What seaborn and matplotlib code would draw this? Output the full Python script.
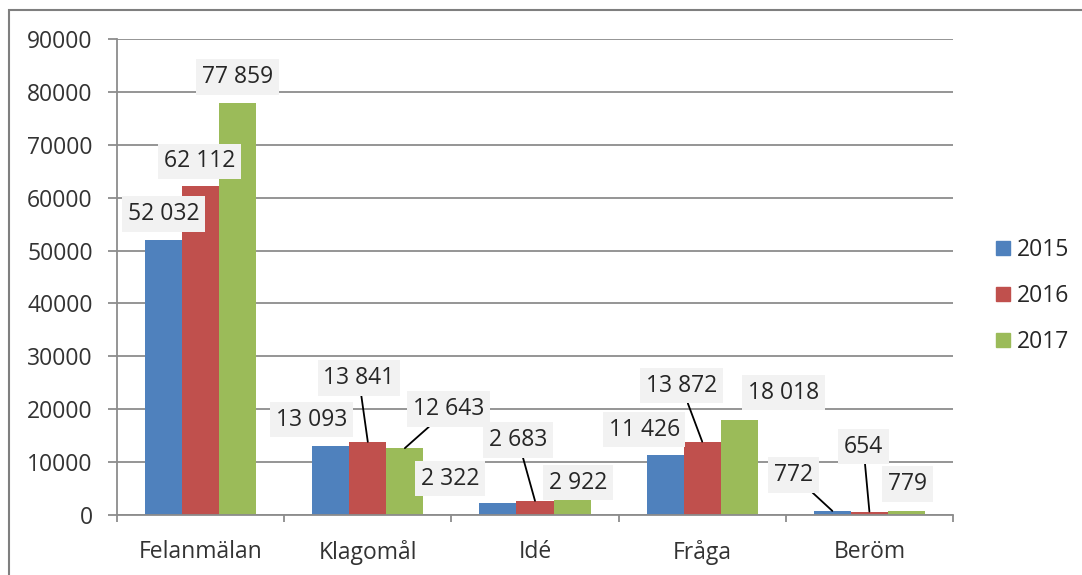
import matplotlib
matplotlib.use('Agg')
import matplotlib.pyplot as plt
import matplotlib.patches as mpatches
from matplotlib.lines import Line2D
import seaborn as sns
import pandas as pd

# data
kategorier = ['Felanmälan', 'Klagomål', 'Idé', 'Fråga', 'Beröm']
ar = ['2015', '2016', '2017']
v2015 = [52032, 13093, 2322, 11426, 772]
v2016 = [62112, 13841, 2683, 13872, 654]
v2017 = [77859, 12643, 2922, 18018, 779]
farger = ['#4f81bd', '#c0504d', '#9bbb59']

df = pd.DataFrame({
    'Kategori': kategorier * 3,
    'År': [a for a in ar for _ in kategorier],
    'Antal': v2015 + v2016 + v2017,
})

# label offsets (pixels) per year/category, and whether a leader line is drawn
offset = {
    '2015': [(0, 26), (-19, 26), (-48, 24), (-21, 25), (-39, 36)],
    '2016': [(-1, 25), (-9, 64), (-17, 61), (-21, 56), (-6, 65)],
    '2017': [(0, 26), (44, 39), (6, 17), (44, 27), (1, 27)],
}
linje = {
    '2015': [False, False, False, False, True],
    '2016': [False, True, True, True, True],
    '2017': [False, True, False, False, False],
}

sns.set_style('white')
plt.rcParams['font.family'] = ['Open Sans', 'DejaVu Sans']

fig = plt.figure(figsize=(10.82, 5.75), dpi=100)
ax = fig.add_axes([117 / 1082, 60 / 575, 836 / 1082, 476 / 575])

sns.barplot(data=df, x='Kategori', y='Antal', hue='År', palette=farger,
            width=0.665, saturation=1, linewidth=0, ax=ax, legend=False,
            zorder=2)

ax.set_ylim(0, 90000)
ax.set_xlim(-0.5, 4.5)
ax.set_yticks(range(0, 90001, 10000))
ax.set_yticklabels([str(t) for t in range(0, 90001, 10000)])
ax.set_xlabel('')
ax.set_ylabel('')
ax.yaxis.grid(True, color='#8c8c8c', lw=1.3, zorder=0)
ax.set_axisbelow(True)
for s in ['top', 'right']:
    ax.spines[s].set_visible(False)
for s in ['left', 'bottom']:
    ax.spines[s].set_color('#8c8c8c')
    ax.spines[s].set_linewidth(1.3)

ax.tick_params(axis='y', length=6.5, width=1.3, color='#8c8c8c', pad=11,
               labelsize=16.5, labelcolor='#333333', left=True)
ax.tick_params(axis='x', which='major', length=0, pad=18, labelsize=16.5,
               labelcolor='#333333')
ax.set_xticks([i - 0.5 for i in range(6)], minor=True)
ax.tick_params(axis='x', which='minor', length=5, width=1.3, color='#8c8c8c',
               bottom=True)

# data labels
for container, a in zip(ax.containers, ar):
    for i, bar in enumerate(container):
        x = bar.get_x() + bar.get_width() / 2
        y = bar.get_height()
        text = f'{int(y):,}'.replace(',', ' ')
        props = None
        if linje[a][i]:
            props = dict(arrowstyle='-', color='black', lw=1.3,
                         shrinkA=0, shrinkB=0)
        ax.annotate(text, xy=(x, y), xytext=offset[a][i],
                    textcoords='offset pixels', ha='center', va='center',
                    fontsize=16.5, color='#262626', zorder=5,
                    bbox=dict(boxstyle='square,pad=0.25', fc='#f2f2f2',
                              ec='none'),
                    arrowprops=props)

handles = [Line2D([], [], marker='s', ls='', markersize=10,
                  markerfacecolor=c, markeredgecolor=c) for c in farger]
ax.legend(handles, ar, loc='center left', bbox_to_anchor=(1.02, 0.46),
          frameon=False, fontsize=16.5, labelcolor='#262626',
          handletextpad=0.05, labelspacing=0.95, handlelength=1.1)

fig.patches.append(mpatches.Rectangle((9 / 1082, -0.1), 1.2, 1.1 - 10 / 575,
                                      transform=fig.transFigure, fill=False,
                                      ec='#7f7f7f', lw=1.5))

fig.savefig('out.png', dpi=100)
